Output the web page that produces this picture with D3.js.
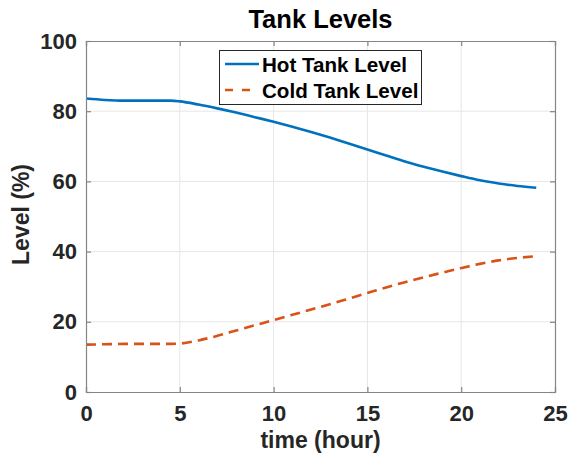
<!DOCTYPE html>
<html><head><meta charset="utf-8">
<script src="https://cdn.jsdelivr.net/npm/d3@7"></script>
<style>body{margin:0;background:#fff}svg{display:block}text{font-family:"Liberation Sans",Arial,sans-serif;font-weight:bold}</style>
</head><body><svg id="c" width="576" height="456"></svg>
<script>
const hours = [0, 1, 2, 3, 4, 4.5, 5, 6, 7, 8, 9, 10, 11, 12, 13, 14, 15, 16, 17, 18, 19, 20, 21, 22, 23, 24];
const hotLevel = [83.6, 83.2, 83.0, 83.0, 83.0, 83.0, 82.8, 81.9, 80.8, 79.6, 78.3, 77.0, 75.6, 74.1, 72.5, 70.8, 69.1, 67.4, 65.7, 64.2, 62.8, 61.5, 60.3, 59.4, 58.7, 58.2];
const coldLevel = [13.5, 13.6, 13.7, 13.7, 13.7, 13.7, 13.8, 14.7, 16.0, 17.5, 19.0, 20.5, 22.0, 23.5, 25.0, 26.6, 28.2, 29.8, 31.3, 32.7, 34.0, 35.3, 36.5, 37.5, 38.2, 38.7];
const xTicks = [0, 5, 10, 15, 20, 25];
const yTicks = [0, 20, 40, 60, 80, 100];
const seriesNames = ["Hot Tank Level", "Cold Tank Level"];
const colors = ["#0072BD", "#D95319"];

const svg = d3.select("#c");
const L = 86, R = 555, T = 41, B = 392;
const x = d3.scaleLinear().domain([0, 25]).range([L, R]);
const y = d3.scaleLinear().domain([0, 100]).range([B, T]);

// grid
svg.append("g").selectAll("line").data(xTicks.slice(1, -1)).join("line")
  .attr("x1", d => x(d)).attr("x2", d => x(d)).attr("y1", T).attr("y2", B)
  .attr("stroke", "#e6e6e6").attr("stroke-width", 1);
svg.append("g").selectAll("line").data(yTicks.slice(1, -1)).join("line")
  .attr("y1", d => y(d)).attr("y2", d => y(d)).attr("x1", L).attr("x2", R)
  .attr("stroke", "#e6e6e6").attr("stroke-width", 1);

// lines
const line = d3.line().x((d, i) => x(hours[i])).y(d => y(d)).curve(d3.curveMonotoneX);
svg.append("path").datum(hotLevel).attr("d", line).attr("fill", "none")
  .attr("stroke", colors[0]).attr("stroke-width", 2.6);
svg.append("path").datum(coldLevel).attr("d", line).attr("fill", "none")
  .attr("stroke", colors[1]).attr("stroke-width", 2.6).attr("stroke-dasharray", "10,6");

// axes
const ax = svg.append("g").attr("transform", `translate(0,${B})`)
  .call(d3.axisBottom(x).tickValues(xTicks).tickSize(-5).tickPadding(13));
const ay = svg.append("g").attr("transform", `translate(${L},0)`)
  .call(d3.axisLeft(y).tickValues(yTicks).tickSize(-5).tickPadding(9));
svg.append("g").attr("transform", `translate(0,${T})`)
  .call(d3.axisTop(x).tickValues(xTicks).tickSize(-5).tickFormat(""));
svg.append("g").attr("transform", `translate(${R},0)`)
  .call(d3.axisRight(y).tickValues(yTicks).tickSize(-5).tickFormat(""));
svg.selectAll(".domain, .tick line").attr("stroke", "#858585").attr("stroke-width", 1.2);
svg.selectAll(".tick text").attr("fill", "#262626").style("font-size", "22px");
ax.selectAll(".tick text").attr("dy", "0.71em");

// titles
svg.append("text").attr("x", (L + R) / 2).attr("y", 28).attr("text-anchor", "middle")
  .style("font-size", "25.5px").attr("fill", "#000").text("Tank Levels");
svg.append("text").attr("x", (L + R) / 2).attr("y", 448).attr("text-anchor", "middle")
  .style("font-size", "23px").attr("fill", "#262626").text("time (hour)");
svg.append("text").attr("transform", `translate(29,${(T + B) / 2 - 2}) rotate(-90)`).attr("text-anchor", "middle")
  .style("font-size", "23px").attr("fill", "#262626").text("Level (%)");

// legend
const lg = svg.append("g");
lg.append("rect").attr("x", 219.5).attr("y", 50.5).attr("width", 202).attr("height", 54)
  .attr("fill", "#fff").attr("stroke", "#262626").attr("stroke-width", 1);
seriesNames.forEach((n, i) => {
  const yy = 64 + i * 26;
  lg.append("line").attr("x1", 225).attr("x2", 259).attr("y1", yy).attr("y2", yy)
    .attr("stroke", colors[i]).attr("stroke-width", 2.6)
    .attr("stroke-dasharray", i === 1 ? "8,9" : null);
  lg.append("text").attr("x", 262).attr("y", yy + 7.5).style("font-size", "20.6px")
    .attr("fill", "#000").text(n);
});
</script></body></html>
